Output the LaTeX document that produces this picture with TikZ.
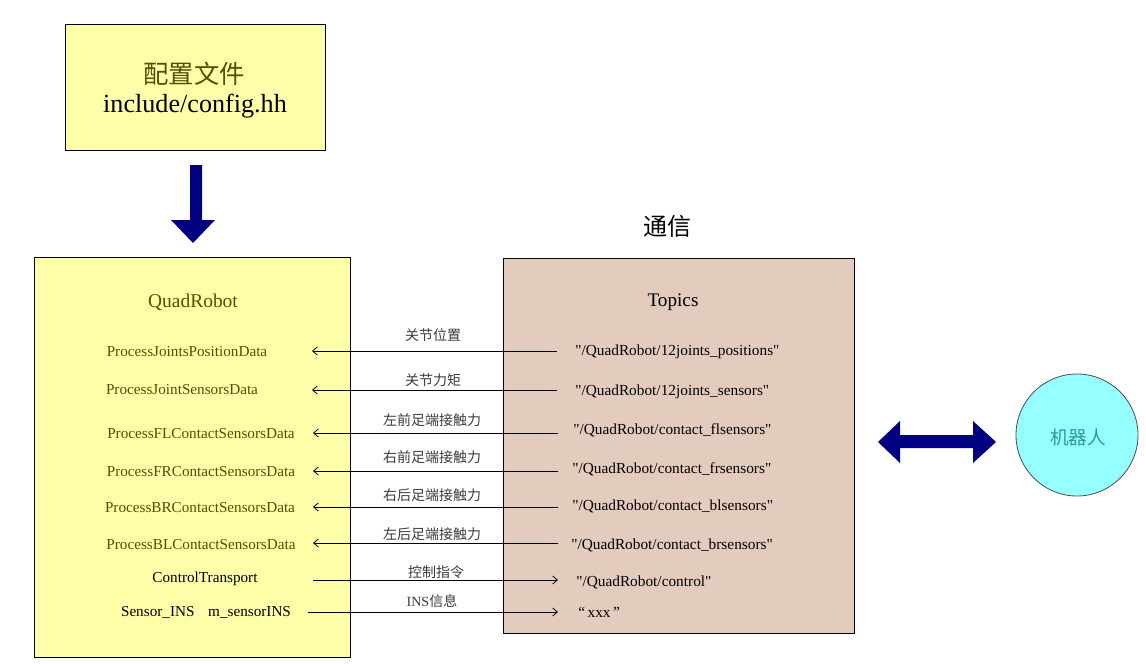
\documentclass[tikz,border=0pt]{standalone}
\usepackage{fontspec}
\setmainfont{Liberation Serif}
\newfontfamily\rawserif{Liberation Serif}
\newfontfamily\cjk{Noto Sans CJK SC}
\usetikzlibrary{arrows.meta}
\definecolor{paleyel}{RGB}{255,255,170}
\definecolor{rosy}{RGB}{227,203,190}
\definecolor{cyanfill}{RGB}{150,255,255}
\definecolor{olivetxt}{RGB}{80,80,0}
\definecolor{tealtxt}{RGB}{50,150,150}
\definecolor{navyarrow}{RGB}{0,0,128}
\definecolor{lblgray}{RGB}{60,60,60}
\tikzset{
  box/.style={draw=black, line width=0.75pt, outer sep=0pt, inner sep=0pt, anchor=north west},
  small/.style={font=\fontsize{11.4}{13}\selectfont, inner sep=0pt, text height=8pt, text depth=2.5pt, yshift=-1.5pt},
  proc/.style={small, text=olivetxt},
  plain/.style={small, text=black},
  topic/.style={font=\rawserif\fontsize{11.5}{13}\selectfont, inner sep=0pt, text height=8pt, text depth=2.5pt, text=black, anchor=west, yshift=-1.5pt},
  lbl/.style={font=\cjk\fontsize{10.5}{12}\selectfont, text=lblgray, inner sep=0pt, text height=8pt, text depth=2.5pt, yshift=-1.5pt},
  title/.style={inner sep=0pt, yshift=-1.5pt},
  link/.style={draw=black, line width=0.6pt, -{Straight Barb[length=3.5pt,width=6pt]}},
  bigarrow/.style={fill=navyarrow, draw=none}
}
\begin{document}
\begin{tikzpicture}[x=0.75pt, y=-0.75pt]
\useasboundingbox (0,0) rectangle (1146,664);
\fill[white] (0,0) rectangle (1146,664);

% config box
\node (cfg) [box, fill=paleyel, minimum width=195pt, minimum height=94.5pt] at (65,24) {};
\node (cfgcn) [title, font=\cjk\fontsize{19}{22}\selectfont, text=olivetxt] at (194,72) {配置文件};
\node (cfgen) [title, font=\fontsize{19.6}{22}\selectfont] at (195,104) {include/config.hh};

% down arrow
\fill[bigarrow] (190,165) -- (202,165) -- (202,220) -- (215,220) -- (193,243) -- (171,220) -- (190,220) -- cycle;

% left box
\node (qr) [box, fill=paleyel, minimum width=237pt, minimum height=300pt] at (34,257) {};
\node (qrt) [title, font=\fontsize{14.6}{17}\selectfont, text=olivetxt] at (193,300) {QuadRobot};
\node (p1) [proc] at (187,351) {ProcessJointsPositionData};
\node (p2) [proc] at (182,389) {ProcessJointSensorsData};
\node (p3) [proc] at (201,433) {ProcessFLContactSensorsData};
\node (p4) [proc] at (201,471) {ProcessFRContactSensorsData};
\node (p5) [proc] at (200,507) {ProcessBRContactSensorsData};
\node (p6) [proc] at (201,544) {ProcessBLContactSensorsData};
\node (p7) [plain] at (205,577) {ControlTransport};
\node (p8) [plain] at (206,611) {Sensor\_INS\hspace{0.9em}m\_sensorINS};

% right box
\node (tp) [box, fill=rosy, minimum width=263.25pt, minimum height=281.25pt] at (503,258) {};
\node (tpt) [title, font=\fontsize{14.4}{17}\selectfont] at (673,300) {Topics};
\node (comm) [title, font=\cjk\fontsize{18}{21}\selectfont] at (667,224) {通信};
\node (t1) [topic] at (575,350) {"/QuadRobot/12joints\_positions"};
\node (t2) [topic] at (575,390) {"/QuadRobot/12joints\_sensors"};
\node (t3) [topic] at (573,429) {"/QuadRobot/contact\_flsensors"};
\node (t4) [topic] at (572,468) {"/QuadRobot/contact\_frsensors"};
\node (t5) [topic] at (572,505) {"/QuadRobot/contact\_blsensors"};
\node (t6) [topic] at (571,544) {"/QuadRobot/contact\_brsensors"};
\node (t7) [topic] at (576,581) {"/QuadRobot/control"};
\node (t8) [topic] at (578,612) {“\,xxx\,”};

% connector end points
\coordinate (r1) at (557,351); \coordinate (l1) at (312,351);
\coordinate (r2) at (557,390); \coordinate (l2) at (312,390);
\coordinate (r3) at (558,433); \coordinate (l3) at (313,433);
\coordinate (r4) at (558,471); \coordinate (l4) at (313,471);
\coordinate (r5) at (558,507); \coordinate (l5) at (313,507);
\coordinate (r6) at (558,543); \coordinate (l6) at (313,543);
\coordinate (l7) at (313,580); \coordinate (r7) at (558,580);
\coordinate (l8) at (308,612); \coordinate (r8) at (558,612);

\draw[link] (r1) -- (l1);
\draw[link] (r2) -- (l2);
\draw[link] (r3) -- (l3);
\draw[link] (r4) -- (l4);
\draw[link] (r5) -- (l5);
\draw[link] (r6) -- (l6);
\draw[link] (l7) -- (r7);
\draw[link] (l8) -- (r8);

% labels
\node (a1) [lbl] at (433,335) {关节位置};
\node (a2) [lbl] at (433,380) {关节力矩};
\node (a3) [lbl] at (432,420) {左前足端接触力};
\node (a4) [lbl] at (432,457) {右前足端接触力};
\node (a5) [lbl] at (432,495) {右后足端接触力};
\node (a6) [lbl] at (432,534) {左后足端接触力};
\node (a7) [lbl] at (436,572) {控制指令};
\node (a8) [lbl] at (432,601) {{\rawserif INS}信息};

% double arrow
\fill[bigarrow] (878,442) -- (900,421) -- (900,435) -- (973,435) -- (973,421) -- (996,442) -- (973,463) -- (973,448) -- (900,448) -- (900,463) -- cycle;

% robot
\node (rob) [circle, draw=black!70, line width=0.6pt, fill=cyanfill, minimum size=91.5pt, inner sep=0pt] at (1077,435) {};
\node (robt) [title, font=\cjk\fontsize{14}{16}\selectfont, text=tealtxt] at (1078,435) {机器人};
\end{tikzpicture}
\end{document}
